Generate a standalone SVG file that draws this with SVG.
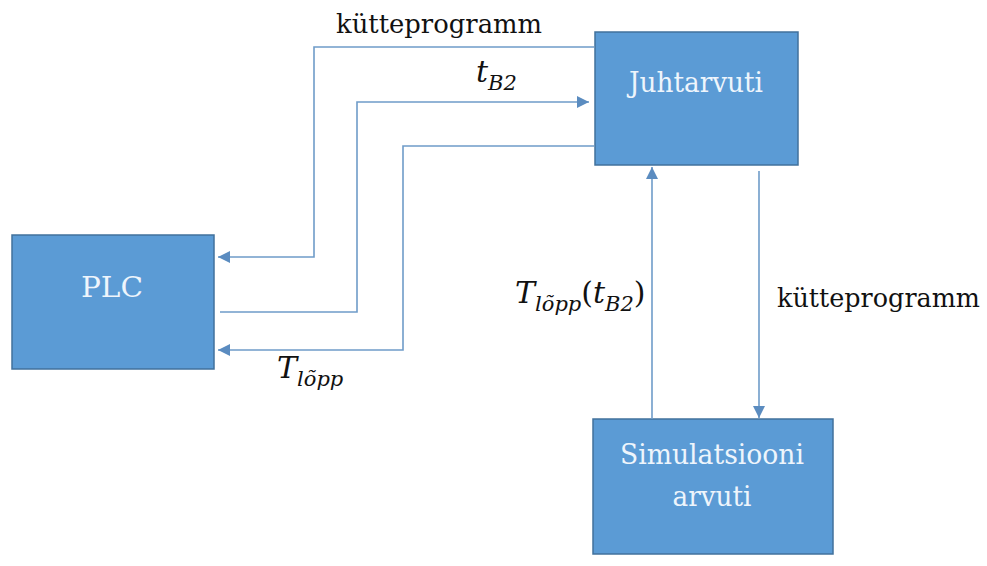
<svg xmlns="http://www.w3.org/2000/svg" width="987" height="566" viewBox="0 0 987 566">
<style>
.box{fill:#5b9bd5;stroke:#41719c;stroke-width:1.5}
.bt{font-family:'DejaVu Serif',serif;font-size:28px;fill:#eef5fc;text-anchor:middle}
.lbl{font-family:'DejaVu Serif',serif;font-size:26px;fill:#111}
.m{font-family:'DejaVu Serif',serif;font-style:italic;fill:#111}
.c{fill:none;stroke:#6f9cc9;stroke-width:1.6}
</style>
<defs>
<marker id="ah" viewBox="0 0 10 10" refX="10" refY="5" markerWidth="12" markerHeight="12" orient="auto" markerUnits="userSpaceOnUse">
<path d="M0,0 L10,5 L0,10 z" fill="#5b8cc0"/>
</marker>
</defs>
<rect width="987" height="566" fill="#fff"/>
<g id="plc"><rect class="box" x="12" y="235" width="202" height="134"/><text class="bt" x="112" y="297" textLength="62" lengthAdjust="spacingAndGlyphs">PLC</text></g>
<g id="juhtarvuti"><rect class="box" x="595" y="32" width="203" height="133"/><text class="bt" x="696" y="92" textLength="134" lengthAdjust="spacingAndGlyphs">Juhtarvuti</text></g>
<g id="simulatsiooni"><rect class="box" x="593" y="419" width="240" height="135"/><text class="bt" x="712" y="464" textLength="184" lengthAdjust="spacingAndGlyphs">Simulatsiooni</text><text class="bt" x="712" y="506" textLength="79" lengthAdjust="spacingAndGlyphs">arvuti</text></g>
<g id="connectors">
<path class="c" d="M594,47 H314 V257 H218" marker-end="url(#ah)"/>
<path class="c" d="M220,312 H357 V102 H589" marker-end="url(#ah)"/>
<path class="c" d="M594,146 H403 V350 H218" marker-end="url(#ah)"/>
<path class="c" d="M652,419 V167" marker-end="url(#ah)"/>
<path class="c" d="M759,171 V418" marker-end="url(#ah)"/>
</g>
<g id="labels">
<text class="lbl" x="336" y="33" textLength="206" lengthAdjust="spacingAndGlyphs">kütteprogramm</text>
<text class="lbl" x="777" y="307" textLength="203" lengthAdjust="spacingAndGlyphs">kütteprogramm</text>
<text class="m" x="476" y="82" font-size="30">t<tspan font-size="21" dy="8">B2</tspan></text>
<text class="m" x="277" y="378" font-size="30">T<tspan font-size="21" dy="8">lõpp</tspan></text>
<text class="m" x="515" y="303" font-size="30">T<tspan font-size="21" dy="8">lõpp</tspan><tspan font-style="normal" dy="-8">(</tspan>t<tspan font-size="21" dy="8">B2</tspan><tspan font-style="normal" dy="-8">)</tspan></text>
</g>
</svg>
